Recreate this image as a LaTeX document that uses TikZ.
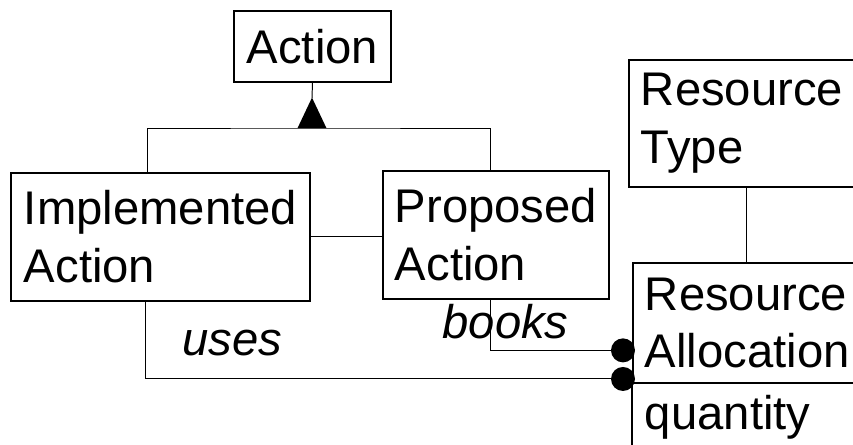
\documentclass[tikz,border=0pt]{standalone}
\usepackage{fontspec}
\setmainfont{Liberation Sans}
\usepackage{tikz}
\usetikzlibrary{calc}

\begin{document}
\begin{tikzpicture}[transform shape,scale=1,
	classbox/.style={draw,line width=1.4pt,align=left,anchor=north west,inner xsep=0.25cm,inner ysep=0.1cm,font=\fontsize{33.6}{41.2}\selectfont},
	link/.style={line width=0.7pt},
	role/.style={anchor=base,font=\fontsize{33.6}{41.2}\selectfont\itshape}]
	\clip (0,0) rectangle (21.325,11.1);
	\node[classbox,minimum width=3.925cm,minimum height=1.775cm] (action) at (5.825,10.85) {Action};
	\node[classbox,minimum width=7.475cm,minimum height=3.2cm] (impl) at (0.25,6.8) {Implemented\\Action};
	\node[classbox,minimum width=5.65cm,minimum height=3.2cm] (prop) at (9.55,6.85) {Proposed\\Action};
	\node[classbox,inner xsep=0.3cm,text width=7cm,minimum height=3.175cm] (rtype) at (15.7,9.625) {Resource\\Type};
	\node[classbox,inner xsep=0.3cm,text width=7cm,minimum height=3cm] (ralloc) at (15.8,4.55) {Resource\\Allocation};
	\node[classbox,draw=none,inner xsep=0.3cm,inner ysep=0.25cm,text width=7cm] (qty) at (ralloc.south west) {quantity};
	\draw[line width=1.4pt] (ralloc.south west) -- ++(0,-2);
	\coordinate (gen) at (7.8,7.9);
	\draw[link] (action.south) -- ($(gen)+(0,0.75)$);
	\fill ($(gen)+(-0.36,0)$) -- ($(gen)+(0.36,0)$) -- ($(gen)+(0,0.76)$) -- cycle;
	\draw[link] (3.675,0 |- impl.north) |- (gen) -| (12.25,0 |- prop.north);
	\draw[link] (impl.east) -- (impl.east -| prop.west);
	\draw[link] (rtype.south -| 18.65,0) -- (ralloc.north -| 18.65,0);
	\coordinate (usesdot) at ($(ralloc.south west)+(-0.225,0.125)$);
	\coordinate (booksdot) at ($(ralloc.south west)+(-0.225,0.84)$);
	\draw[link] (3.625,0 |- impl.south) |- (usesdot);
	\draw[link] (12.25,0 |- prop.south) |- (booksdot);
	\fill (usesdot) circle (0.3);
	\fill (booksdot) circle (0.3);
	\node[role] (uses) at (5.81,2.225) {uses};
	\node[role] (books) at (12.64,2.65) {books};
\end{tikzpicture}
\end{document}
